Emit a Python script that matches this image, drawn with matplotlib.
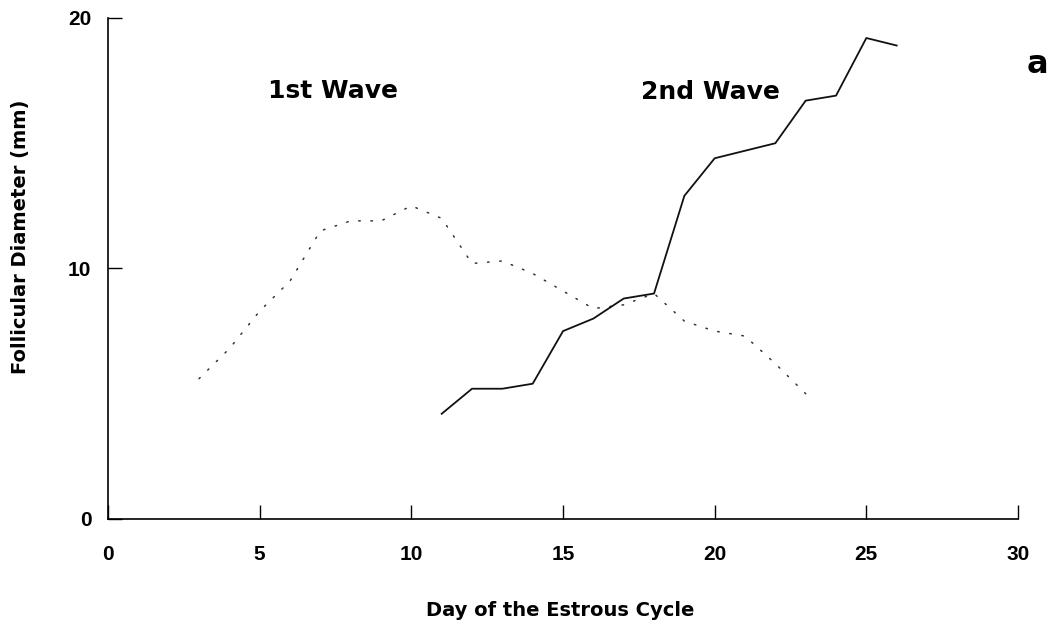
import matplotlib
matplotlib.use("Agg")
import matplotlib.pyplot as plt

# Follicle diameters (mm) per day of the estrous cycle
wave1_days = [3, 4, 5, 6, 7, 8, 9, 10, 11, 12, 13, 14, 15, 16, 17, 18, 19, 20, 21, 22, 23]
wave1_diam = [5.6, 6.8, 8.3, 9.5, 11.5, 11.9, 11.9, 12.5, 12.0, 10.2, 10.3, 9.8, 9.1, 8.4, 8.55, 9.0, 7.9, 7.5, 7.3, 6.2, 5.0]

wave2_days = [11, 12, 13, 14, 15, 16, 17, 18, 19, 20, 21, 22, 23, 24, 25, 26]
wave2_diam = [4.2, 5.2, 5.2, 5.4, 7.5, 8.0, 8.8, 9.0, 12.9, 14.4, 14.7, 15.0, 16.7, 16.9, 19.2, 18.9]

x_ticks = [0, 5, 10, 15, 20, 25, 30]
y_ticks = [0, 10, 20]

TICK_FONT = ['Liberation Sans', 'DejaVu Sans']
TEXT_FONT = ['DejaVu Sans']

W, H = 1052, 624
fig = plt.figure(figsize=(W / 100, H / 100), dpi=100)
ax = fig.add_axes([0.1027, 0.1683, 0.8650, 0.8029])

ax.plot(wave1_days, wave1_diam, color='#333333', linewidth=1.1,
        linestyle=(0, (1, 7)), dash_capstyle='round')
ax.plot(wave2_days, wave2_diam, color='#111111', linewidth=1.3)

ax.set_xlim(0, 30)
ax.set_ylim(0, 20)
ax.set_xticks(x_ticks)
ax.set_yticks(y_ticks)
ax.tick_params(direction='in', length=10, width=1)
ax.tick_params(axis='x', pad=19)
ax.tick_params(axis='y', pad=12)
for lbl in ax.get_xticklabels() + ax.get_yticklabels():
    lbl.set_fontfamily(TICK_FONT)
    lbl.set_fontweight('bold')
    lbl.set_fontsize(15)

for side in ('top', 'right'):
    ax.spines[side].set_visible(False)
for side in ('left', 'bottom'):
    ax.spines[side].set_linewidth(1.2)

# Axis titles placed in figure pixel coordinates
fig.text(560 / W, 1 - 610 / H, 'Day of the Estrous Cycle', family=TEXT_FONT,
         fontsize=14, fontweight='bold', ha='center', va='center')
fig.text(21 / W, 1 - 237 / H, 'Follicular Diameter (mm)', family=TEXT_FONT,
         fontsize=14, fontweight='bold', ha='center', va='center', rotation=90)

ax.text(7.42, 16.8, '1st Wave', family=TEXT_FONT, fontsize=18, fontweight='bold',
        ha='center', va='baseline')
ax.text(19.85, 16.77, '2nd Wave', family=TEXT_FONT, fontsize=18, fontweight='bold',
        ha='center', va='baseline')
ax.text(30.63, 17.8, 'a', family=TEXT_FONT, fontsize=23, fontweight='bold',
        ha='center', va='baseline', clip_on=False)

fig.savefig('out.png', dpi=100)
